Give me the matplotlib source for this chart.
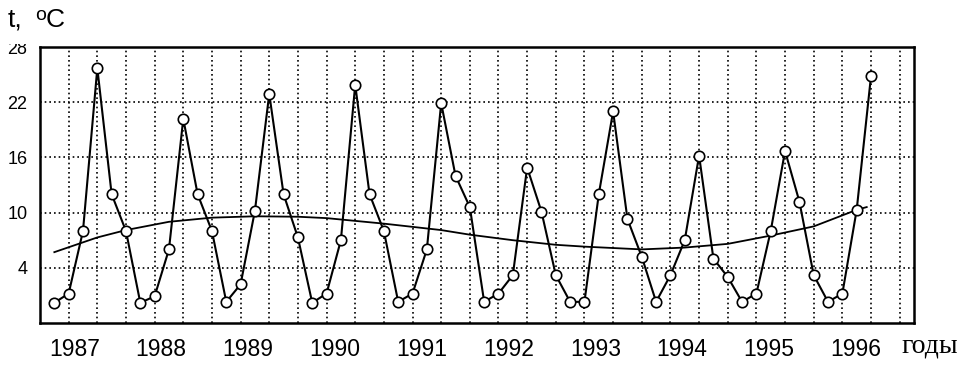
import numpy as np
import matplotlib
matplotlib.use("Agg")
import matplotlib.pyplot as plt
from matplotlib.transforms import Bbox

# ---- data (bimonthly mean temperatures, 1987-1996) ----
temps = [0.2, 1.2, 8.0, 25.7, 12.0, 8.0,
         0.2, 0.9, 6.0, 20.2, 12.0, 8.0,
         0.3, 2.2, 10.2, 22.9, 12.0, 7.3,
         0.2, 1.2, 7.0, 23.9, 12.0, 8.0,
         0.3, 1.2, 6.0, 21.9, 14.0, 10.6,
         0.3, 1.2, 3.2, 14.9, 10.1, 3.2,
         0.3, 0.3, 12.0, 21.0, 9.3, 5.2,
         0.3, 3.2, 7.0, 16.2, 5.0, 3.0,
         0.3, 1.2, 8.0, 16.7, 11.2, 3.2,
         0.3, 1.2, 10.3, 24.85]

trend_x = [0, 3, 5, 8, 11, 14, 17, 19, 23, 27, 29, 32, 35, 37, 41, 44, 47, 50, 53, 56, 56.7]
trend_y = [5.7, 7.3, 8.1, 9.0, 9.45, 9.6, 9.55, 9.4, 8.8, 8.1, 7.6, 7.0, 6.5, 6.3, 6.0, 6.2, 6.6, 7.5, 8.5, 10.3, 10.6]

years = ["1987", "1988", "1989", "1990", "1991", "1992", "1993", "1994", "1995", "1996"]
yticks = [4, 10, 16, 22, 28]

plt.rcParams['font.family'] = ['Liberation Sans', 'DejaVu Sans']

fig = plt.figure(figsize=(9.74, 3.67), dpi=100)
ax = fig.add_axes([40/974, 44/367, 874/974, 276/367])

x = np.arange(len(temps))
ax.plot(trend_x, trend_y, color='black', lw=1.3, zorder=3)
ax.plot(x, temps, color='black', lw=1.5, marker='o', markersize=7.5,
        markerfacecolor='white', markeredgecolor='black', markeredgewidth=1.2, zorder=4)

ax.set_xlim(-1, 60)
ax.set_ylim(-2, 28)

# grid
for gx in np.arange(1, 60, 2):
    ax.axvline(gx, color='black', lw=1.2, ls=(0, (1, 1.8)), zorder=1)
for gy in yticks[:-1]:
    ax.axhline(gy, color='black', lw=1.2, ls=(0, (1, 1.8)), zorder=1)

ax.set_yticks(yticks)
ax.set_yticklabels([str(v) for v in yticks], fontsize=13)
ax.set_xticks(1.4 + 6.06 * np.arange(len(years)))
ax.set_xticklabels(years, fontsize=16.5)
ax.tick_params(axis='both', length=0)
ax.tick_params(axis='y', pad=9)
ax.tick_params(axis='x', pad=11)

for sp in ax.spines.values():
    sp.set_linewidth(1.8)
    sp.set_color('black')

# clip the top "28" label as in the original
for lab in ax.get_yticklabels():
    if lab.get_text() == "28":
        lab.set_clip_box(Bbox([[0, 0], [40, 367 - 44]]))
        lab.set_clip_on(True)

ytitle = (367 - 20) / 367
fig.text(8/974, ytitle, 't,', fontsize=19, ha='left', va='center')
fig.text(35/974, ytitle + 5/367, 'o', fontsize=14, ha='left', va='center')
fig.text(46/974, ytitle, 'C', fontsize=19, ha='left', va='center')
fig.text(930/974, (367-346)/367, 'годы', fontsize=20, ha='center', va='center',
         family=['Liberation Serif', 'DejaVu Serif'])

fig.savefig('out.png', dpi=100, facecolor='white')
